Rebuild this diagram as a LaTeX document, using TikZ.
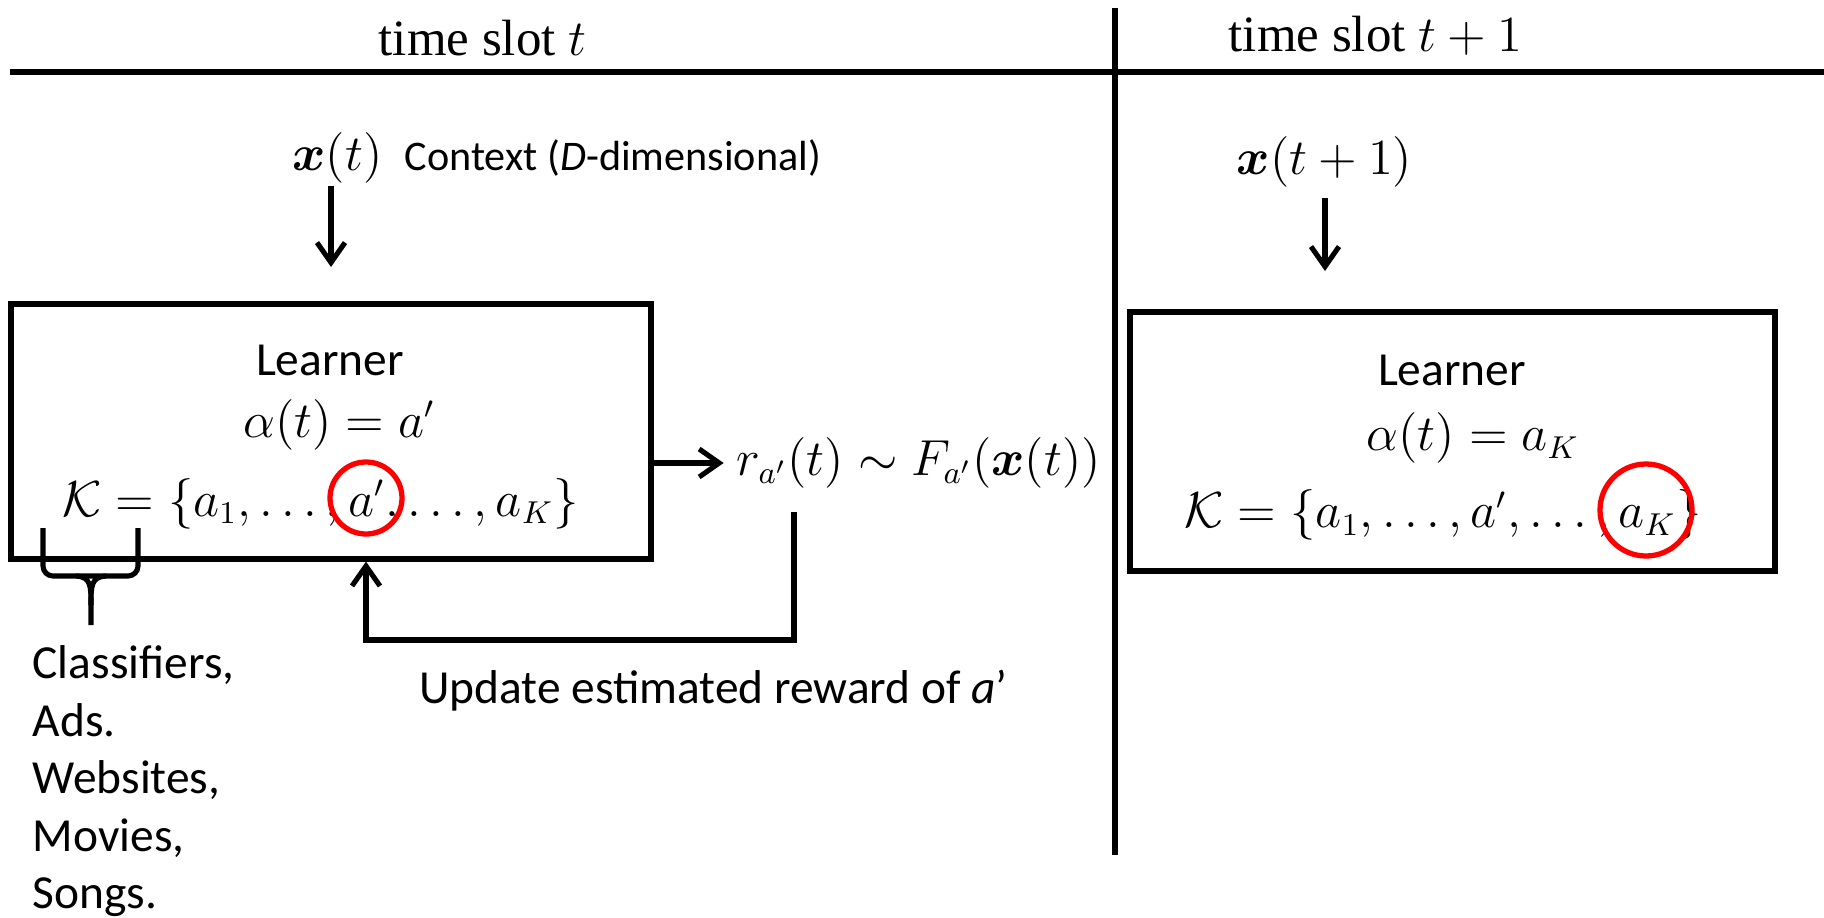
\documentclass[tikz,border=0pt]{standalone}
\usepackage{amsmath}
\usepackage{amssymb}
\usepackage{fontspec}
\newfontfamily\calibri{Carlito}
\newfontfamily\timesfont{Liberation Serif}
\usepackage{tikz}
\usetikzlibrary{arrows.meta}

\begin{document}
\begin{tikzpicture}
    \tikzset{>={Straight Barb[length=2mm, width=2.8mm]}}
    \tikzset{
      thickline/.style={line width=1.45pt},
      learnerbox/.style={draw, line width=1.45pt, inner sep=0pt},
      sans/.style={font=\calibri\fontsize{13.5}{16.36}\selectfont, inner sep=0pt},
      ctxtext/.style={font=\calibri\fontsize{12}{14}\selectfont, inner sep=0pt},
      mth/.style={font=\fontsize{13.4}{16}\selectfont, inner sep=0pt},
      slot/.style={font=\timesfont\fontsize{14.5}{17}\selectfont, inner sep=0pt},
      redring/.style={draw=red, line width=1.5pt, circle, inner sep=0pt},
    }

    \useasboundingbox (0, 0) rectangle (18.24, -9.18);

    % Draw the time axis and the slot separator
    \coordinate (lineL) at (0.10, -0.72);
    \coordinate (lineR) at (18.24, -0.72);
    \coordinate (sepT) at (11.15, -0.08);
    \coordinate (sepB) at (11.15, -8.55);
    \draw[line width=1.6pt] (lineL) -- (lineR);
    \draw[line width=1.6pt] (sepT) -- (sepB);

    \node[slot, anchor=base] (slotA) at (4.825, -0.55) {time slot $t$};
    \node[slot, anchor=base] (slotB) at (13.755, -0.52) {time slot $t+1$};

    % Slot t: context comes in
    \node[mth] (xt) at (3.375, -1.575) {$\boldsymbol{x}(t)$};
    \node[ctxtext, anchor=base west, xshift=0.21cm] (ctx) at (xt.base east)
        {Context (\textit{D}-dimensional)};
    \coordinate (xtend) at (3.31, -2.67);
    \draw[thickline, ->, shorten <=0.02cm] (xt.south -| xtend) -- (xtend);

    % Learner at slot t
    \node[learnerbox, minimum width=6.40cm, minimum height=2.55cm] (lbox) at (3.31, -4.315) {};
    \node[sans, anchor=base] (llearn) at (3.30, -3.75) {Learner};
    \node[mth] (lalpha) at (3.39, -4.245) {$\alpha(t) = a'$};
    \node[mth] (lset) at (3.205, -5.035) {$\mathcal{K} = \{a_1, \ldots, a', \ldots, a_K\}$};
    \node[redring, minimum size=0.72cm] (lring) at (3.66, -4.98) {};

    % Reward and the update loop
    \node[mth, inner sep=0.12cm] (rew) at (9.185, -4.63) {$r_{a'}(t) \sim F_{a'}(\boldsymbol{x}(t))$};
    \draw[thickline, ->] (lbox.east |- rew) -- (rew.west);

    \coordinate (fbtop) at (7.94, -5.12);
    \coordinate (fbcorner) at (7.94, -6.40);
    \draw[thickline, ->] (fbtop) -- (fbcorner) -| (lring |- lbox.south);

    \node[sans, anchor=base] (upd) at (7.135, -7.03) {Update estimated reward of \textit{a}’};

    % Brace under the action set
    \draw[thickline, rounded corners=0.1cm]
        (0.43, -5.28) -- (0.43, -5.76) -- (1.38, -5.76) -- (1.38, -5.28);
    \draw[thickline] (0.76, -5.76) .. controls (0.91, -5.77) and (0.91, -5.86) .. (0.91, -6.05)
        -- (0.91, -6.25);
    \draw[thickline] (1.06, -5.76) .. controls (0.91, -5.77) and (0.91, -5.86) .. (0.91, -6.05);

    \node[sans, anchor=north west, align=left] (kinds) at (0.32, -6.45)
        {Classifiers,\\Ads.\\Websites,\\Movies,\\Songs.};

    % Slot t+1
    \node[mth] (xn) at (13.245, -1.62) {$\boldsymbol{x}(t+1)$};
    \coordinate (xnend) at (13.25, -2.71);
    \draw[thickline, ->, shorten <=0.1cm] (xn.south -| xnend) -- (xnend);

    \node[learnerbox, minimum width=6.45cm, minimum height=2.59cm] (rbox) at (14.525, -4.415) {};
    \node[sans, anchor=base] (rlearn) at (14.52, -3.85) {Learner};
    \node[mth] (ralpha) at (14.73, -4.38) {$\alpha(t) = a_K$};
    \node[mth] (rset) at (14.43, -5.15) {$\mathcal{K} = \{a_1, \ldots, a', \ldots, a_K\}$};
    \node[redring, minimum size=0.92cm] (rring) at (16.46, -5.10) {};
\end{tikzpicture}
\end{document}
